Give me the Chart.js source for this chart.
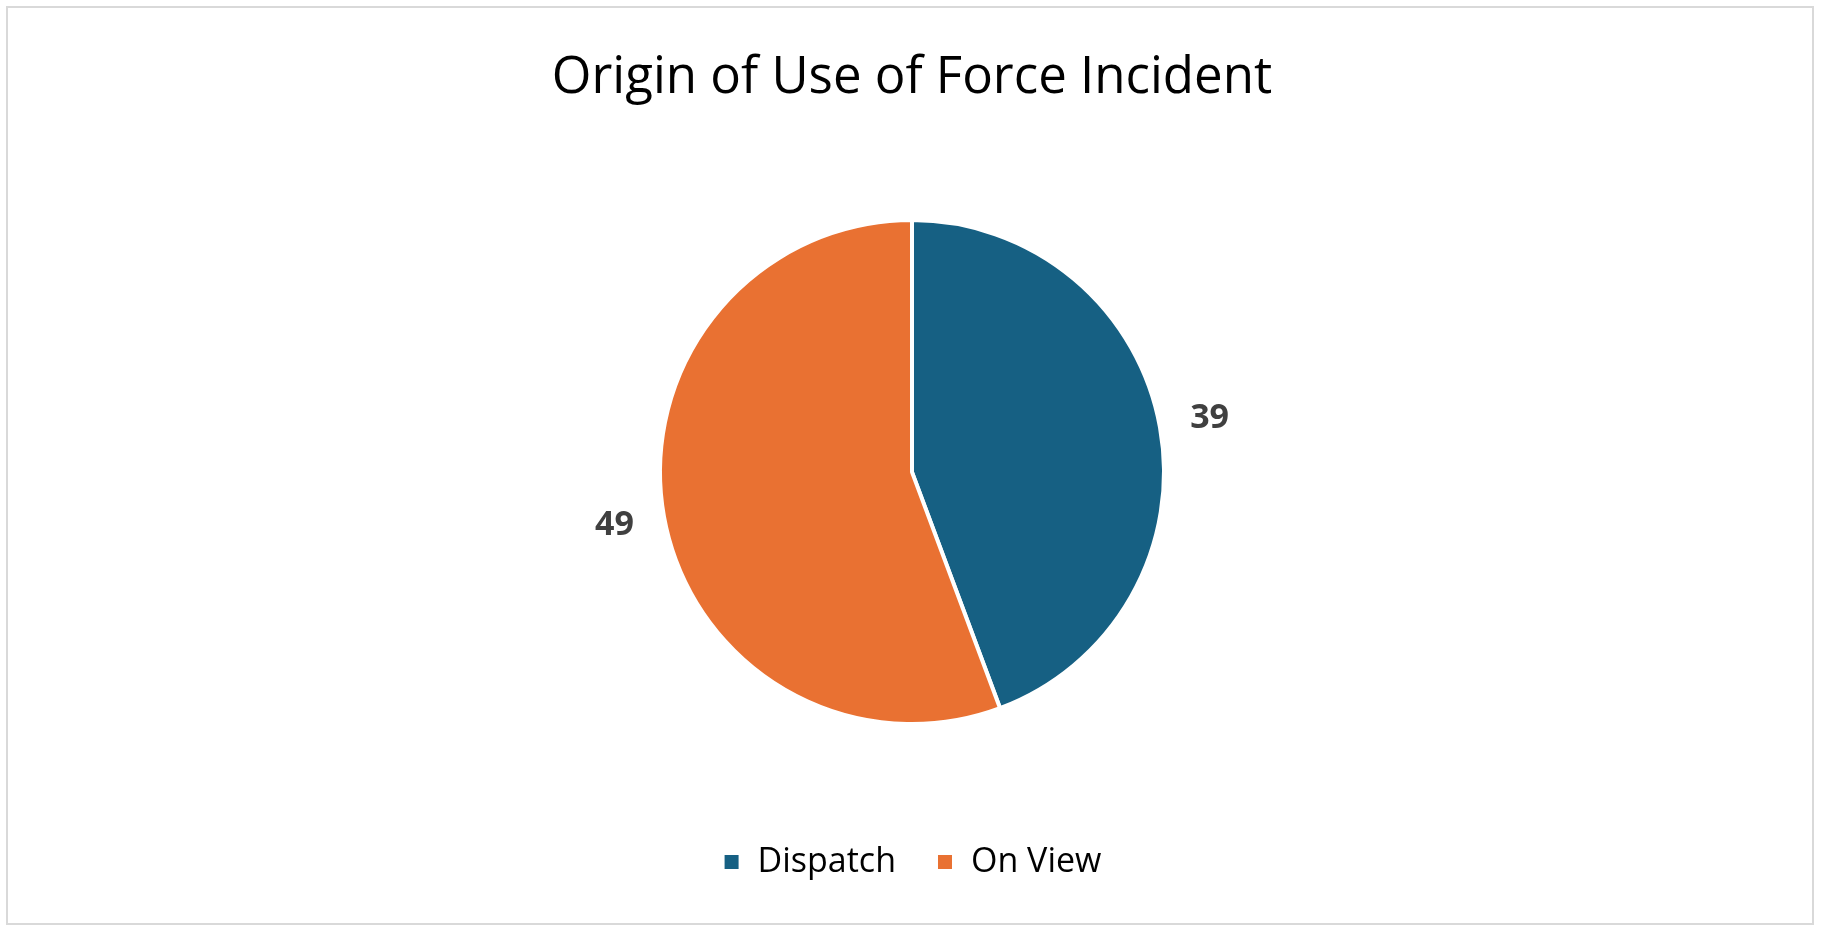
<!DOCTYPE html>
<html>
<head>
<meta charset="utf-8">
<script src="https://cdn.jsdelivr.net/npm/chart.js@4/dist/chart.umd.min.js"></script>
<style>
  body { margin: 0; background: #fff; }
  #frame { position: absolute; left: 6px; top: 6px; width: 1808px; height: 919px; border: 2px solid #d9d9d9; box-sizing: border-box; }
  canvas { position: absolute; left: 0; top: 0; }
</style>
</head>
<body>
<div id="frame"></div>
<canvas id="pie" width="1824" height="935"></canvas>
<script>
const categories = ['Dispatch', 'On View'];
const values = [39, 49];
const colors = ['#166083', '#E97132'];

// value labels outside the slices
const outsideLabels = {
    id: 'outsideLabels',
    afterDatasetsDraw(chart) {
        const ctx = chart.ctx;
        const meta = chart.getDatasetMeta(0);
        ctx.save();
        ctx.font = 'bold 34px "Open Sans", sans-serif';
        ctx.fillStyle = '#404040';
        ctx.textAlign = 'center';
        ctx.textBaseline = 'middle';
        meta.data.forEach((arc, i) => {
            const mid = (arc.startAngle + arc.endAngle) / 2;
            const r = arc.outerRadius * 1.2;
            ctx.fillText(values[i], arc.x + Math.cos(mid) * r, arc.y + Math.sin(mid) * r);
        });
        ctx.restore();
    }
};

new Chart(document.getElementById('pie'), {
    type: 'pie',
    data: {
        labels: categories,
        datasets: [{
            data: values,
            backgroundColor: colors,
            borderColor: '#ffffff',
            borderWidth: 4,
            radius: 252
        }]
    },
    options: {
        responsive: false,
        animation: false,
        layout: { padding: { top: 18, bottom: 46 } },
        plugins: {
            title: {
                display: true,
                text: 'Origin of Use of Force Incident',
                color: '#000',
                font: { family: '"Open Sans", sans-serif', size: 51, weight: 'normal' },
                padding: { top: 30, bottom: 30 }
            },
            legend: {
                position: 'bottom',
                labels: {
                    color: '#000',
                    font: { family: '"Open Sans", sans-serif', size: 34 },
                    boxWidth: 18,
                    boxHeight: 18,
                    padding: 40
                }
            },
            tooltip: { enabled: false }
        }
    },
    plugins: [outsideLabels]
});
</script>
</body>
</html>
